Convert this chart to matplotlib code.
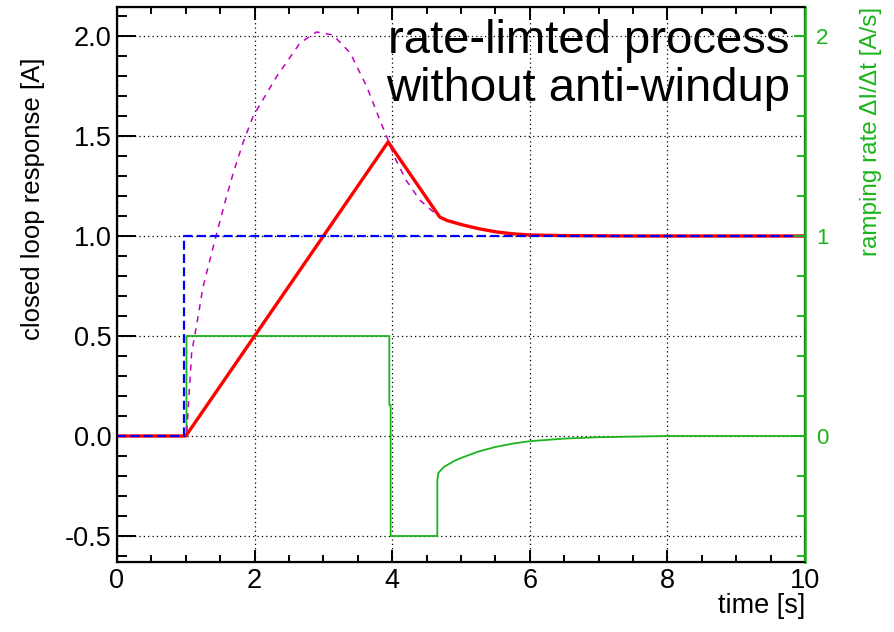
import matplotlib
matplotlib.use("Agg")
import matplotlib.pyplot as plt
from matplotlib.ticker import MultipleLocator, FormatStrFormatter

plt.rcParams["font.family"] = ["Liberation Sans", "DejaVu Sans"]
plt.rcParams["axes.unicode_minus"] = False

GREEN = "#1cb41c"

# set point (step at t=1)
t_ref = [0.0, 0.98, 0.98, 10.0]
y_ref = [0.0, 0.0, 1.0, 1.0]

# closed loop response, rate-limited
t_out = [0.0, 1.0, 3.94, 4.65, 4.69, 4.8, 5.03, 5.25, 5.52, 5.75, 6.0, 6.5, 7.0, 7.5, 8.0, 10.0]
y_out = [0.0, 0.0, 1.47, 1.115, 1.095, 1.077, 1.055, 1.037, 1.02, 1.011, 1.005, 1.002, 1.001, 1.0, 1.0, 1.0]

# response without rate limit (dashed)
t_free = [0.0, 1.0, 1.013, 1.085, 1.18, 1.25, 1.35, 1.47, 1.59, 1.69, 1.83, 1.98, 2.32, 2.66,
          2.9, 3.14, 3.39, 3.63, 3.82, 3.92, 4.04, 4.2, 4.4, 4.6, 4.69, 5.03, 5.52, 6.0, 7.0, 8.0, 10.0]
y_free = [0.0, 0.0, 0.015, 0.415, 0.6, 0.745, 0.88, 1.04, 1.195, 1.315, 1.465, 1.6, 1.797, 1.965,
          2.02, 2.005, 1.915, 1.747, 1.58, 1.497, 1.39, 1.28, 1.18, 1.12, 1.095, 1.055, 1.02, 1.005, 1.001, 1.0, 1.0]

# ramping rate dI/dt
t_rate = [0.0, 1.01, 1.01, 3.958, 3.958, 3.977, 3.977, 4.656, 4.656, 4.67, 4.75, 4.9, 5.0,
          5.25, 5.5, 5.75, 6.0, 6.5, 7.0, 7.5, 8.0, 10.0]
y_rate = [0.0, 0.0, 0.5, 0.5, 0.155, 0.155, -0.5, -0.5, -0.22, -0.185, -0.155, -0.125, -0.11,
          -0.078, -0.055, -0.038, -0.026, -0.013, -0.006, -0.003, 0.0, 0.0]

fig = plt.figure(figsize=(8.95, 6.32), dpi=100)
ax = fig.add_axes([117/895, 1-562/632, (805-117)/895, (562-7)/632])
ax.set_xlim(0, 10)
ax.set_ylim(-0.63, 2.145)

ax.plot(t_rate, y_rate, color=GREEN, lw=1.3, zorder=2)
ax.plot(t_free, y_free, color="#c000c0", lw=1.1, dashes=(4, 4), zorder=3)
ax.plot(t_out, y_out, color="red", lw=2.4, zorder=4)
ax.plot(t_ref, y_ref, color="blue", lw=1.6, dashes=(4, 2), zorder=5)

ax.grid(True, which="major", color="black", linestyle=(0, (1, 2.5)), lw=0.9)
ax.xaxis.set_major_locator(MultipleLocator(2))
ax.xaxis.set_minor_locator(MultipleLocator(0.5))
ax.yaxis.set_major_locator(MultipleLocator(0.5))
ax.yaxis.set_minor_locator(MultipleLocator(0.1))
ax.yaxis.set_major_formatter(FormatStrFormatter("%.1f"))
ax.tick_params(which="both", direction="in", top=True, right=True, width=1.4, labelsize=19.5)
ax.tick_params(axis="y", which="major", length=14, pad=4)
ax.tick_params(axis="y", which="minor", length=7)
ax.tick_params(axis="x", which="major", length=9, pad=4)
ax.tick_params(axis="x", which="minor", length=5)
for s in ax.spines.values():
    s.set_linewidth(1.6)

ax2 = ax.twinx()
ax2.set_ylim(-0.63, 2.145)
ax2.yaxis.set_major_locator(MultipleLocator(1))
ax2.yaxis.set_minor_locator(MultipleLocator(0.2))
ax2.yaxis.set_major_formatter(FormatStrFormatter("%d"))
ax2.tick_params(which="both", direction="in", colors=GREEN, width=1.4, labelsize=16, pad=8)
ax2.tick_params(which="major", length=8)
ax2.tick_params(which="minor", length=6)
ax2.spines["right"].set_color(GREEN)
ax2.spines["right"].set_linewidth(1.8)

ax.text(0.978, 0.978, "rate-limted process\nwithout anti-windup", transform=ax.transAxes,
        ha="right", va="top", fontsize=34, linespacing=1.12)

fig.text(33/895, 1-57/632, "closed loop response [A]", rotation=90, ha="center", va="top", fontsize=18.5)
fig.text(871/895, 1-7/632, "ramping rate \u0394I/\u0394t [A/s]", rotation=90, ha="center", va="top",
         fontsize=17.5, color=GREEN)
fig.text(805/895, 1-606/632, "time [s]", ha="right", va="center", fontsize=19.5)

fig.savefig("out.png", dpi=100, facecolor="white")
